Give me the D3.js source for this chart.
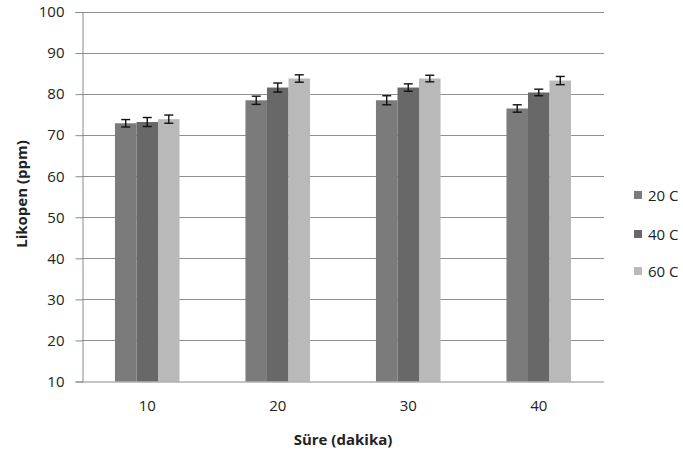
<!DOCTYPE html>
<html><head><meta charset="utf-8">
<script src="https://cdn.jsdelivr.net/npm/d3@7"></script>
<style>body{margin:0;background:#fff}svg{display:block}text{font-family:"Open Sans",sans-serif;fill:#222}</style>
</head><body><svg id="c" width="683" height="456"></svg>
<script>
const categories = ["10","20","30","40"];
const seriesNames = ["20 C","40 C","60 C"];
const values20 = [72.9, 78.5, 78.5, 76.5];
const values40 = [73.2, 81.6, 81.6, 80.4];
const values60 = [73.9, 83.8, 83.8, 83.3];
const err20 = [0.9, 1.0, 1.1, 0.9];
const err40 = [1.1, 1.1, 0.9, 0.8];
const err60 = [1.0, 0.9, 0.8, 1.0];
const yTicks = [10,20,30,40,50,60,70,80,90,100];
const colors = ["#7b7b7b","#686868","#b9b9b9"];

const svg = d3.select("#c");
const L=82, R=604, T=12, B=381.5;
const x = d3.scaleBand().domain(categories).range([L,R]).paddingInner(0.505).paddingOuter(0.2525);
const xs = d3.scaleBand().domain(seriesNames).range([0,x.bandwidth()]);
const y = d3.scaleLinear().domain([10,100]).range([B,T]);

svg.append("g").selectAll("line").data(yTicks.slice(1)).join("line")
  .attr("x1",L).attr("x2",R).attr("y1",d=>Math.round(y(d))+0.5).attr("y2",d=>Math.round(y(d))+0.5)
  .attr("stroke","#8f8f8f").attr("stroke-width",1);

const vals=[values20,values40,values60], errs=[err20,err40,err60];
const data=[];
categories.forEach((c,i)=>seriesNames.forEach((s,j)=>data.push({c,s,v:vals[j][i],e:errs[j][i],j})));

svg.append("g").selectAll("rect").data(data).join("rect")
  .attr("x",d=>x(d.c)+xs(d.s)).attr("width",xs.bandwidth())
  .attr("y",d=>y(d.v)).attr("height",d=>B-y(d.v)).attr("fill",d=>colors[d.j]);

const eg=svg.append("g").attr("stroke","#111").attr("stroke-width",1.4);
data.forEach(d=>{
  const cx=x(d.c)+xs(d.s)+xs.bandwidth()/2;
  eg.append("line").attr("x1",cx).attr("x2",cx).attr("y1",y(d.v+d.e)).attr("y2",y(d.v-d.e));
  eg.append("line").attr("x1",cx-4.5).attr("x2",cx+4.5).attr("y1",y(d.v+d.e)).attr("y2",y(d.v+d.e));
  eg.append("line").attr("x1",cx-4.5).attr("x2",cx+4.5).attr("y1",y(d.v-d.e)).attr("y2",y(d.v-d.e));
});

const ya=svg.append("g").attr("transform",`translate(${L+0.5},0)`)
  .call(d3.axisLeft(y).tickValues(yTicks).tickSize(7).tickPadding(11).tickFormat(d3.format("d")));
ya.select(".domain").attr("stroke","#8a8a8a");
ya.selectAll(".tick line").attr("stroke","#8a8a8a");
ya.selectAll(".tick text").attr("font-size",15).attr("font-family","'Open Sans',sans-serif").attr("fill","#222");

const xa=svg.append("g").attr("transform",`translate(0,${B+0.5})`)
  .call(d3.axisBottom(x).tickSize(0).tickPadding(18));
xa.select(".domain").attr("stroke","#8a8a8a").attr("d",`M${L},0H${R}`);
xa.selectAll(".tick text").attr("font-size",15).attr("font-family","'Open Sans',sans-serif").attr("fill","#222");

svg.append("text").attr("x",343).attr("y",445).attr("text-anchor","middle")
  .attr("font-size",15).attr("font-weight","bold").text("Süre (dakika)");
svg.append("text").attr("transform","translate(27,194) rotate(-90)").attr("text-anchor","middle")
  .attr("font-size",15).attr("font-weight","bold").text("Likopen (ppm)");

const lg=svg.append("g");
const ly=[195,234,271];
seriesNames.forEach((s,j)=>{
  lg.append("rect").attr("x",634).attr("y",ly[j]-4).attr("width",8).attr("height",8).attr("fill",colors[j]);
  lg.append("text").attr("x",648).attr("y",ly[j]+5.5).attr("font-size",15).text(s);
});
</script></body></html>
